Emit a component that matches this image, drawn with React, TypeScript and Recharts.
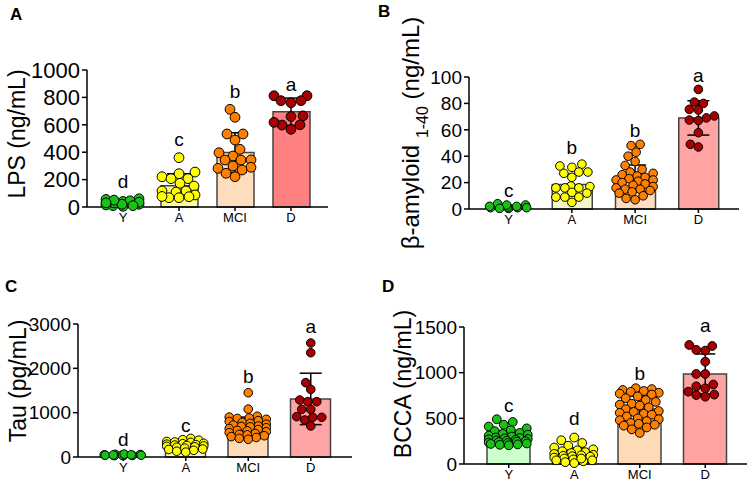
import React from "react";
import { ComposedChart, Bar, Cell, Scatter, ErrorBar, XAxis, YAxis, ReferenceDot } from "recharts";

const categories = ["Y", "A", "MCI", "D"];
const letters = {
  lps: ["d", "c", "b", "a"],
  amy: ["c", "b", "b", "a"],
  tau: ["d", "c", "b", "a"],
  bcca: ["c", "d", "b", "a"],
};

// A - LPS (ng/mL)
const lpsY = [40, 20, 55, 10, 30, 60, 25, 15, 45, 5, 35, 20, 50, 10, 30];
const lpsA = [360, 255, 243, 221, 207, 207, 173, 153, 117, 117, 109, 68, 68, 88, 75, 77];
const lpsMCI = [713, 655, 533, 533, 489, 421, 396, 372, 343, 343, 344, 299, 290, 282, 270, 221, 246];
const lpsD = [812, 812, 776, 761, 776, 660, 665, 600, 598, 618, 567];
const lpsMean = [32, 155, 397, 695];
const lpsSD = [15, 88, 145, 100];
const lpsLetterY = [185, 494, 842, 898];
const lpsTicks = [0, 200, 400, 600, 800, 1000];

// B - beta-amyloid 1-40 (ng/mL)
const amyY = [2, 1, 3, 0.5, 1.5, 2, 1, 4, 3, 1, 0.5, 2];
const amyA = [34, 32.6, 31.6, 28, 28, 27, 24, 17.4, 17, 16, 16, 16, 12, 12.6, 9, 9, 9, 5];
const amyMCI = [49, 48, 43, 40, 36, 33, 30, 28, 27, 26, 25, 24, 23, 22, 22, 21, 20, 19, 18, 17, 16, 15, 15, 14, 13, 12, 10, 8, 7];
const amyD = [90.6, 80, 81, 75, 75.5, 70.5, 67.4, 67, 69, 57.8, 47, 49];
const amyMean = [1.7, 18.5, 23.3, 69];
const amySD = [1, 8, 10, 13];
const amyLetterY = [14, 47, 60, 101.5];
const amyTicks = [0, 20, 40, 60, 80, 100];

// C - Tau (pg/mL)
const tauY = [50, 40, 60, 30, 55, 45, 35, 65, 40, 50, 30, 45];
const tauA = [420, 390, 380, 350, 340, 330, 310, 300, 290, 280, 270, 260, 250, 240, 230, 220, 200, 180, 170, 150, 130, 110];
const tauMCI = [1450, 1080, 920, 900, 880, 870, 850, 820, 800, 780, 760, 740, 720, 700, 690, 680, 660, 640, 620, 600, 590, 570, 550, 530, 510, 500, 480, 460, 440, 420, 400];
const tauD = [2571, 2353, 1677, 1526, 1286, 1248, 1248, 1075, 1075, 895, 910, 835, 895, 700];
const tauMean = [45, 255, 690, 1310];
const tauSD = [12, 80, 210, 580];
const tauLetterY = [399, 722, 1811, 2939];
const tauTicks = [0, 1000, 2000, 3000];

// D - BCCA (ng/mL)
const bccaY = [490, 460, 430, 410, 390, 370, 360, 340, 330, 320, 310, 300, 290, 285, 280, 275, 270, 265, 260, 255, 250, 245, 240, 235, 230, 225, 220, 215, 210, 205];
const bccaA = [290, 260, 230, 200, 180, 160, 150, 140, 130, 120, 110, 100, 95, 90, 85, 80, 70, 60, 50, 40, 30, 20, 10, 40, 60];
const bccaMCI = [830, 820, 810, 800, 790, 780, 770, 760, 740, 720, 700, 680, 660, 650, 640, 620, 600, 580, 570, 560, 550, 540, 520, 500, 490, 480, 470, 450, 440, 430, 420, 400, 380, 340];
const bccaD = [1292, 1303, 1241, 1250, 1120, 986, 986, 870, 850, 829, 792, 755, 737, 760];
const bccaMean = [295, 105, 603, 985];
const bccaSD = [70, 70, 140, 220];
const bccaLetterY = [646, 500, 993, 1522];
const bccaTicks = [0, 500, 1000, 1500];

const pointColors = ["#18c018", "#ffff00", "#ff8000", "#a80000"];
const FONT = "'Liberation Sans', Arial, sans-serif";

// spread the dots of one group sideways so they don't pile up (like a dot plot)
function swarm(values: number[], pxPerUnit: number, band: number, maxFrac: number, r: number) {
  const placed: { y: number; dx: number }[] = [];
  const order = values.map((_, i) => i).sort((a, b) => values[a] - values[b]);
  const offs = new Array(values.length).fill(0);
  const maxPx = band * maxFrac;
  const d = 2 * r * 0.95;
  for (const i of order) {
    const y = values[i] * pxPerUnit;
    let best = 0;
    let bestCost = Infinity;
    for (let k = 0; k <= maxPx * 2; k++) {
      const dx = (k % 2 === 0 ? 1 : -1) * Math.ceil(k / 2);
      let cost = 0;
      for (const p of placed) {
        const dist = Math.hypot(dx - p.dx, y - p.y);
        if (dist < d) cost += d - dist;
      }
      if (cost === 0) {
        best = dx;
        break;
      }
      if (cost < bestCost) {
        bestCost = cost;
        best = dx;
      }
    }
    placed.push({ y, dx: best });
    offs[i] = best / band;
  }
  return offs;
}

type PanelCfg = {
  left: number;
  top: number;
  width: number;
  height: number;
  margin: { top: number; right: number; bottom: number; left: number };
  xAxisHeight: number;
  pad: { left: number; right: number };
  barSize: number;
  dotR: number;
  max: number;
  ticks: number[];
  tickFont: number;
  capWidth: number;
  barFills: string[];
  groups: number[][];
  mean: number[];
  sd: number[];
  letters: string[];
  letterY: number[];
};

const Panel = ({ cfg }: { cfg: PanelCfg }) => {
  const yW = 60;
  const plotW = cfg.width - cfg.margin.left - cfg.margin.right - yW;
  const plotH = cfg.height - cfg.margin.top - cfg.margin.bottom - cfg.xAxisHeight;
  const band = (plotW - cfg.pad.left - cfg.pad.right) / 4;
  const barData = categories.map((c, i) => ({ cat: c, y: cfg.mean[i] }));
  const errData = categories.map((c, i) => ({ x: i, y: cfg.mean[i], sd: cfg.sd[i] }));
  const dots = cfg.groups.map((vals, gi) => {
    const offs = swarm(vals, plotH / cfg.max, band, 0.3, cfg.dotR);
    return vals.map((v, j) => ({ x: gi + offs[j], y: v }));
  });

  return (
    <div style={{ position: "absolute", left: cfg.left, top: cfg.top }}>
      <ComposedChart width={cfg.width} height={cfg.height} data={barData} margin={cfg.margin}>
        <XAxis
          xAxisId="cat"
          dataKey="cat"
          type="category"
          padding={cfg.pad}
          height={cfg.xAxisHeight}
          interval={0}
          axisLine={{ stroke: "#000", strokeWidth: 1.5 }}
          tickLine={{ stroke: "#000", strokeWidth: 1.5 }}
          tickSize={4}
          tick={{ fontSize: 13, fill: "#000", fontFamily: FONT }}
        />
        <XAxis xAxisId="num" dataKey="x" type="number" domain={[-0.5, 3.5]} padding={cfg.pad} hide />
        <YAxis
          dataKey="y"
          type="number"
          domain={[0, cfg.max]}
          ticks={cfg.ticks}
          interval={0}
          width={yW}
          axisLine={{ stroke: "#000", strokeWidth: 1.5 }}
          tickLine={{ stroke: "#000", strokeWidth: 1.5 }}
          tickSize={5}
          tick={{ fontSize: cfg.tickFont, fill: "#000", fontFamily: FONT }}
        />
        <Bar xAxisId="cat" dataKey="y" barSize={cfg.barSize} stroke="#444" strokeWidth={1.5} isAnimationActive={false}>
          {barData.map((d, i) => (
            <Cell key={d.cat} fill={cfg.barFills[i]} />
          ))}
        </Bar>
        {dots.map((pts, gi) => (
          <Scatter
            key={gi}
            xAxisId="num"
            data={pts}
            dataKey="y"
            isAnimationActive={false}
            shape={(p: any) => (
              <circle cx={p.cx} cy={p.cy} r={cfg.dotR} fill={pointColors[gi]} stroke="#000" strokeWidth={1} />
            )}
          />
        ))}
        <Scatter xAxisId="num" data={errData} dataKey="y" isAnimationActive={false} shape={() => <g />}>
          <ErrorBar dataKey="sd" direction="y" width={cfg.capWidth} stroke="#000" strokeWidth={1.5} isAnimationActive={false} />
        </Scatter>
        {cfg.letters.map((l, i) => (
          <ReferenceDot
            key={i}
            xAxisId="cat"
            x={categories[i]}
            y={cfg.letterY[i]}
            r={0}
            fill="none"
            stroke="none"
            ifOverflow="visible"
            label={{ value: l, position: "center", fontSize: 19, fill: "#000", fontFamily: FONT }}
          />
        ))}
      </ComposedChart>
    </div>
  );
};

const panels: PanelCfg[] = [
  {
    left: 0, top: 0, width: 377, height: 240,
    margin: { top: 70, right: 49, bottom: 3, left: 27 },
    xAxisHeight: 30, pad: { left: 8, right: 9 }, barSize: 37, dotR: 4.9,
    max: 1000, ticks: lpsTicks, tickFont: 22, capWidth: 12,
    barFills: ["#ccffcc", "#ffff99", "#ffdcbd", "#ff8080"],
    groups: [lpsY, lpsA, lpsMCI, lpsD], mean: lpsMean, sd: lpsSD,
    letters: letters.lps, letterY: lpsLetterY,
  },
  {
    left: 377, top: 0, width: 377, height: 240,
    margin: { top: 77, right: 15, bottom: 3, left: 32 },
    xAxisHeight: 28, pad: { left: 8, right: 9 }, barSize: 40, dotR: 4.3,
    max: 100, ticks: amyTicks, tickFont: 19, capWidth: 11,
    barFills: ["#ccffcc", "#f4f7c6", "#fddcc0", "#ffa3a3"],
    groups: [amyY, amyA, amyMCI, amyD], mean: amyMean, sd: amySD,
    letters: letters.amy, letterY: amyLetterY,
  },
  {
    left: 0, top: 240, width: 377, height: 249,
    margin: { top: 84, right: 25, bottom: 3, left: 18 },
    xAxisHeight: 29, pad: { left: 14, right: 10 }, barSize: 40, dotR: 4.3,
    max: 3000, ticks: tauTicks, tickFont: 19, capWidth: 11,
    barFills: ["#ccffcc", "#f8f8cc", "#ffdab9", "#ffa5a5"],
    groups: [tauY, tauA, tauMCI, tauD], mean: tauMean, sd: tauSD,
    letters: letters.tau, letterY: tauLetterY,
  },
  {
    left: 377, top: 240, width: 377, height: 249,
    margin: { top: 87, right: 7, bottom: 0, left: 27 },
    xAxisHeight: 25, pad: { left: 12, right: 9 }, barSize: 43, dotR: 4.4,
    max: 1500, ticks: bccaTicks, tickFont: 19, capWidth: 10,
    barFills: ["#ccffcc", "#fafacb", "#ffdab9", "#ffa3a3"],
    groups: [bccaY, bccaA, bccaMCI, bccaD], mean: bccaMean, sd: bccaSD,
    letters: letters.bcca, letterY: bccaLetterY,
  },
];

export default function App() {
  return (
    <div style={{ position: "absolute", left: 0, top: 0, width: 754, height: 489, background: "#fff", fontFamily: FONT }}>
      {panels.map((p, i) => (
        <Panel key={i} cfg={p} />
      ))}
      <svg width={754} height={489} style={{ position: "absolute", left: 0, top: 0, pointerEvents: "none" }} fontFamily={FONT}>
        <text x={10} y={20} fontSize={17} fontWeight="bold">A</text>
        <text x={378} y={17} fontSize={17} fontWeight="bold">B</text>
        <text x={5} y={292} fontSize={17} fontWeight="bold">C</text>
        <text x={382} y={292} fontSize={17} fontWeight="bold">D</text>
        <text transform="translate(25,134) rotate(-90)" textAnchor="middle" fontSize={23}>LPS (ng/mL)</text>
        <text transform="translate(419,133) rotate(-90)" textAnchor="middle" fontSize={24}>
          β-amyloid <tspan fontSize={16} dy={9}>1-40</tspan>
          <tspan dy={-9}> (ng/mL)</tspan>
        </text>
        <text transform="translate(26,381) rotate(-90)" textAnchor="middle" fontSize={23}>Tau (pg/mL)</text>
        <text transform="translate(411,384) rotate(-90)" textAnchor="middle" fontSize={23}>BCCA (ng/mL)</text>
      </svg>
    </div>
  );
}
